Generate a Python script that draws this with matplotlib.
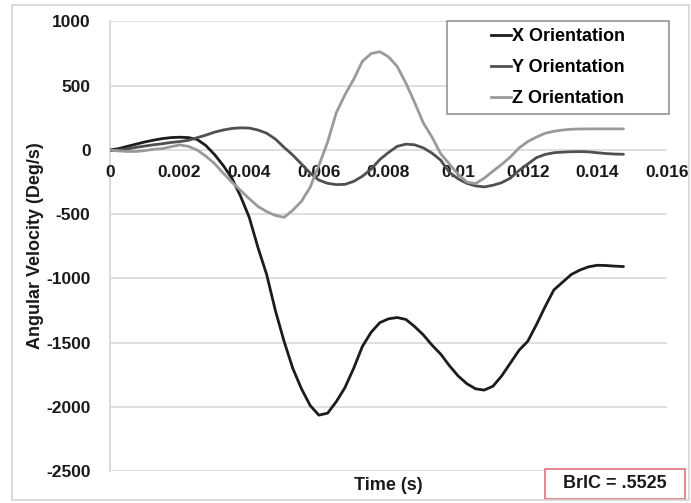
import numpy as np
import matplotlib
matplotlib.use('Agg')
import matplotlib.pyplot as plt
from matplotlib.patches import Rectangle
from matplotlib.lines import Line2D

plt.rcParams['font.family'] = ['Liberation Sans', 'DejaVu Sans']
plt.rcParams['font.weight'] = 'bold'
plt.rcParams['axes.unicode_minus'] = False

# sample times (s), one every 0.25 ms
time = np.arange(60) * 0.00025

x_orient = [0, 10, 28, 45, 62, 76, 88, 96, 99, 96,
            82, 35, -35, -120, -220, -360, -525, -760, -970, -1250,
            -1490, -1700, -1860, -1990, -2065, -2050, -1960, -1850, -1700, -1530,
            -1420, -1345, -1315, -1305, -1320, -1375, -1440, -1520, -1590, -1680,
            -1760, -1820, -1860, -1870, -1840, -1760, -1660, -1560, -1490, -1360,
            -1220, -1090, -1030, -970, -935, -910, -898, -900, -905, -908]

y_orient = [-5, 0, 8, 20, 30, 40, 48, 58, 65, 75,
            95, 115, 138, 155, 167, 172, 170, 155, 130, 85,
            20, -40, -110, -180, -235, -260, -270, -268, -245, -205,
            -150, -75, -20, 28, 45, 40, 16, -25, -80, -175,
            -225, -260, -280, -288, -275, -255, -220, -160, -110, -60,
            -35, -22, -17, -14, -13, -15, -22, -28, -32, -34]

z_orient = [0, -8, -12, -12, -5, 5, 10, 25, 39, 28,
            0, -48, -105, -180, -250, -315, -380, -440, -480, -510,
            -525, -470, -400, -290, -120, 60, 290, 430, 550, 690,
            750, 765, 725, 650, 520, 370, 210, 100, -30, -110,
            -190, -250, -262, -220, -165, -113, -55, 15, 65, 100,
            130, 145, 155, 161, 163, 164, 164, 164, 164, 164]

series = ['X Orientation', 'Y Orientation', 'Z Orientation']
colors = ['#1c1c1c', '#505050', '#9a9a9a']
x_ticks = [0, 0.002, 0.004, 0.006, 0.008, 0.01, 0.012, 0.014, 0.016]
x_labels = ['0', '0.002', '0.004', '0.006', '0.008', '0.01', '0.012', '0.014', '0.016']
y_ticks = [-2500, -2000, -1500, -1000, -500, 0, 500, 1000]
bric_text = 'BrIC = .5525'

W, H = 691, 503
fig = plt.figure(figsize=(W / 100, H / 100), dpi=100)
ax = fig.add_axes([110 / W, 1 - 471 / H, 557 / W, 449.5 / H])

for vals, name, c in zip([x_orient, y_orient, z_orient], series, colors):
    ax.plot(time, vals, color=c, lw=2.0, label=name,
            solid_capstyle='round', solid_joinstyle='round')

ax.set_xlim(0, 0.016)
ax.set_ylim(-2500, 1000)
ax.set_yticks(y_ticks)
ax.set_xticks(x_ticks)
ax.set_xticklabels(x_labels)
ax.grid(axis='y', color='#d9d9d9', lw=1.2)
ax.set_axisbelow(True)

ax.spines['bottom'].set_position(('data', 0))
ax.spines['bottom'].set_visible(False)
ax.spines['top'].set_visible(False)
ax.spines['right'].set_visible(False)
ax.spines['left'].set_color('#d4d4d4')
ax.spines['left'].set_linewidth(1.2)
ax.spines['left'].set_zorder(0.3)
ax.tick_params(axis='both', length=0, labelsize=12.5, colors='#1a1a1a')
ax.tick_params(axis='x', pad=11)
ax.tick_params(axis='y', pad=14)
for lbl in ax.get_xticklabels():
    lbl.set_bbox(dict(facecolor='none', edgecolor='none', pad=0))

# legend box drawn separately so the entries sit centred with wide side margins
x0 = (447 - 110) / 557
x1 = (669 - 110) / 557
y1 = 1.0
y0 = (471 - 114) / 449.5
ax.add_patch(Rectangle((x0, y0), x1 - x0, y1 - y0, transform=ax.transAxes,
                       fill=True, facecolor='white', edgecolor='#8c8c8c', lw=1.1,
                       zorder=4, clip_on=False))
handles = [Line2D([], [], color=c, lw=2.0) for c in colors]
leg = ax.legend(handles, series, loc='center', bbox_to_anchor=((x0 + x1) / 2, (y0 + y1) / 2),
                frameon=False, fontsize=13, handlelength=1.1, handletextpad=0.1,
                labelspacing=0.78, borderpad=0.0)
leg.set_zorder(5)

fig.text(36 / W, 1 - 246 / H, 'Angular Velocity (Deg/s)', rotation=90,
         ha='center', va='center', fontsize=13, color='#1a1a1a')
fig.text(388 / W, 1 - 485 / H, 'Time (s)', ha='center', va='center',
         fontsize=13, color='#1a1a1a')

# BrIC value box
fig.patches.append(Rectangle((545 / W, 1 - 499 / H), 140 / W, 30 / H,
                             transform=fig.transFigure, facecolor='white',
                             edgecolor='#e07080', lw=1.2))
fig.text(615 / W, 1 - 484 / H, bric_text, ha='center', va='center',
         fontsize=13, color='#1a1a1a')

# outer chart border
fig.patches.append(Rectangle((12 / W, 3 / H), 677 / W, 495 / H,
                             transform=fig.transFigure, fill=False,
                             edgecolor='#d4d4d4', lw=1.2))

fig.savefig('out.png', dpi=100)
